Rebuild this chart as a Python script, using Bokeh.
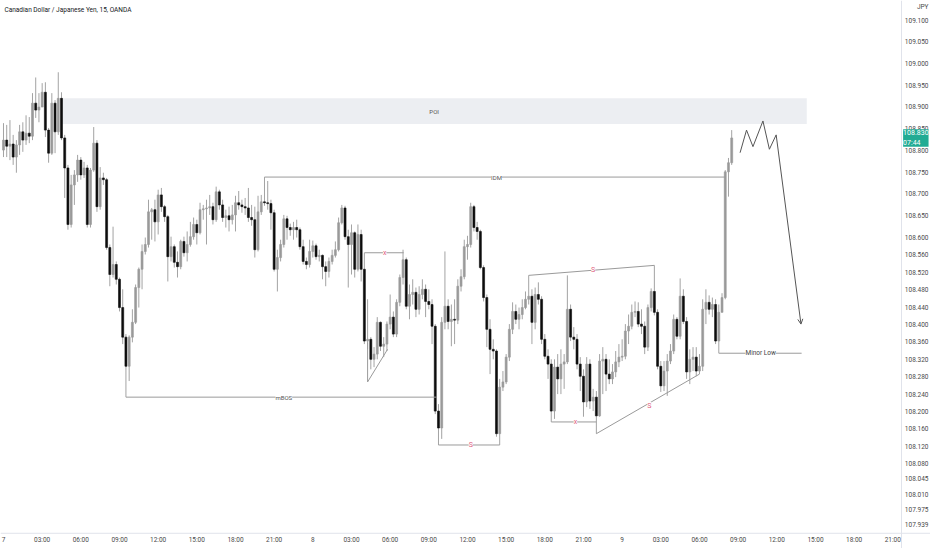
from bokeh.plotting import figure
from bokeh.models import (ColumnDataSource, FixedTicker, Range1d, Label, Arrow, OpenHead, Span)
from bokeh.embed import file_html
from bokeh.resources import INLINE

# ---------------- data (CAD/JPY, 15 min candles, slot 0 = day 7 00:00) ----------------
first_open = 108.802
closes = [108.825,
 108.811, 108.816, 108.786, 108.814, 108.844, 108.825, 108.841, 108.834, 108.910, 108.894,
 108.901, 108.935, 108.848, 108.795, 108.910, 108.844, 108.921, 108.830, 108.761, 108.631,
 108.722, 108.745, 108.779, 108.745, 108.761, 108.631, 108.756, 108.818, 108.672, 108.738,
 108.734, 108.578, 108.516, 108.539, 108.505, 108.440, 108.372, 108.305, 108.372, 108.406,
 108.486, 108.528, 108.569, 108.585, 108.660, 108.665, 108.637, 108.699, 108.672, 108.649,
 108.557, 108.580, 108.544, 108.534, 108.592, 108.566, 108.585, 108.603, 108.631, 108.612,
 108.665, 108.667, 108.669, 108.672, 108.642, 108.706, 108.676, 108.647, 108.651, 108.642,
 108.653, 108.681, 108.676, 108.672, 108.669, 108.647, 108.642, 108.573, 108.660, 108.683,
 108.681, 108.679, 108.658, 108.528, 108.555, 108.585, 108.644, 108.624, 108.619, 108.624,
 108.619, 108.580, 108.546, 108.539, 108.569, 108.582, 108.557, 108.560, 108.534, 108.523,
 108.546, 108.560, 108.573, 108.635, 108.669, 108.603, 108.585, 108.612, 108.528, 108.608,
 108.528, 108.363, 108.367, 108.321, 108.333, 108.406, 108.351, 108.356, 108.402, 108.418,
 108.379, 108.452, 108.509, 108.550, 108.443, 108.470, 108.475, 108.436, 108.470, 108.482,
 108.454, 108.447, 108.397, 108.202, 108.163, 108.406, 108.443, 108.408, 108.413, 108.411,
 108.489, 108.511, 108.580, 108.585, 108.672, 108.624, 108.615, 108.532, 108.463, 108.390,
 108.344, 108.340, 108.150, 108.257, 108.269, 108.326, 108.390, 108.431, 108.413, 108.424,
 108.440, 108.459, 108.466, 108.406, 108.470, 108.459, 108.367, 108.328, 108.310, 108.202,
 108.303, 108.276, 108.310, 108.315, 108.436, 108.372, 108.367, 108.310, 108.282, 108.223,
 108.310, 108.225, 108.234, 108.191, 108.317, 108.321, 108.287, 108.276, 108.292, 108.315,
 108.326, 108.328, 108.386, 108.397, 108.429, 108.431, 108.402, 108.397, 108.349, 108.440,
 108.477, 108.429, 108.305, 108.260, 108.294, 108.317, 108.340, 108.413, 108.374, 108.466,
 108.408, 108.292, 108.321, 108.326, 108.294, 108.305, 108.436, 108.452, 108.436, 108.447,
 108.363, 108.429, 108.463, 108.752, 108.773, 108.830]
highs = [108.864,
 108.860, 108.871, 108.837, 108.825, 108.860, 108.866, 108.882, 108.878, 108.933, 108.969,
 108.933, 108.956, 108.958, 108.853, 108.933, 108.917, 108.981, 108.935, 108.837, 108.768,
 108.745, 108.756, 108.791, 108.786, 108.775, 108.768, 108.761, 108.855, 108.825, 108.763,
 108.750, 108.738, 108.585, 108.626, 108.546, 108.509, 108.482, 108.379, 108.376, 108.436,
 108.493, 108.532, 108.585, 108.601, 108.688, 108.669, 108.688, 108.711, 108.715, 108.676,
 108.653, 108.603, 108.585, 108.569, 108.596, 108.603, 108.615, 108.637, 108.647, 108.642,
 108.681, 108.676, 108.688, 108.699, 108.681, 108.718, 108.711, 108.688, 108.665, 108.672,
 108.676, 108.697, 108.708, 108.688, 108.692, 108.715, 108.676, 108.672, 108.697, 108.699,
 108.740, 108.731, 108.688, 108.665, 108.573, 108.596, 108.653, 108.651, 108.633, 108.637,
 108.642, 108.624, 108.596, 108.555, 108.596, 108.594, 108.587, 108.573, 108.562, 108.546,
 108.555, 108.573, 108.592, 108.647, 108.676, 108.674, 108.619, 108.631, 108.615, 108.631,
 108.619, 108.566, 108.459, 108.372, 108.349, 108.418, 108.408, 108.372, 108.408, 108.470,
 108.431, 108.459, 108.516, 108.573, 108.555, 108.493, 108.505, 108.486, 108.489, 108.505,
 108.493, 108.482, 108.459, 108.402, 108.218, 108.418, 108.569, 108.459, 108.447, 108.459,
 108.505, 108.528, 108.596, 108.605, 108.681, 108.676, 108.637, 108.619, 108.537, 108.470,
 108.413, 108.367, 108.344, 108.276, 108.294, 108.333, 108.402, 108.452, 108.447, 108.440,
 108.459, 108.477, 108.514, 108.482, 108.486, 108.498, 108.466, 108.379, 108.344, 108.321,
 108.321, 108.333, 108.344, 108.333, 108.514, 108.447, 108.395, 108.379, 108.326, 108.298,
 108.326, 108.321, 108.253, 108.248, 108.333, 108.349, 108.333, 108.321, 108.310, 108.340,
 108.356, 108.367, 108.402, 108.424, 108.447, 108.454, 108.452, 108.436, 108.408, 108.447,
 108.484, 108.537, 108.436, 108.317, 108.317, 108.333, 108.356, 108.424, 108.418, 108.507,
 108.482, 108.418, 108.344, 108.349, 108.349, 108.333, 108.459, 108.482, 108.468, 108.463,
 108.459, 108.447, 108.473, 108.756, 108.784, 108.848]
lows = [108.786,
 108.786, 108.779, 108.768, 108.750, 108.791, 108.798, 108.814, 108.818, 108.825, 108.876,
 108.866, 108.901, 108.832, 108.773, 108.791, 108.795, 108.837, 108.825, 108.692, 108.619,
 108.624, 108.676, 108.729, 108.734, 108.738, 108.624, 108.624, 108.752, 108.660, 108.665,
 108.722, 108.573, 108.489, 108.509, 108.493, 108.431, 108.356, 108.234, 108.271, 108.360,
 108.402, 108.440, 108.482, 108.562, 108.578, 108.596, 108.592, 108.608, 108.660, 108.637,
 108.500, 108.546, 108.532, 108.509, 108.528, 108.557, 108.546, 108.580, 108.596, 108.585,
 108.608, 108.642, 108.585, 108.653, 108.631, 108.637, 108.665, 108.637, 108.624, 108.615,
 108.631, 108.615, 108.665, 108.658, 108.653, 108.637, 108.628, 108.555, 108.569, 108.653,
 108.674, 108.665, 108.619, 108.523, 108.477, 108.546, 108.578, 108.596, 108.605, 108.596,
 108.601, 108.573, 108.539, 108.528, 108.532, 108.555, 108.550, 108.546, 108.505, 108.489,
 108.509, 108.539, 108.555, 108.569, 108.631, 108.596, 108.486, 108.516, 108.509, 108.523,
 108.500, 108.356, 108.344, 108.298, 108.303, 108.321, 108.340, 108.326, 108.340, 108.390,
 108.372, 108.372, 108.443, 108.493, 108.436, 108.413, 108.447, 108.418, 108.424, 108.459,
 108.418, 108.436, 108.356, 108.195, 108.124, 108.138, 108.390, 108.390, 108.351, 108.356,
 108.402, 108.477, 108.505, 108.550, 108.578, 108.615, 108.596, 108.528, 108.454, 108.349,
 108.287, 108.321, 108.143, 108.124, 108.248, 108.264, 108.317, 108.379, 108.402, 108.390,
 108.413, 108.436, 108.447, 108.356, 108.390, 108.447, 108.356, 108.321, 108.276, 108.177,
 108.184, 108.241, 108.241, 108.253, 108.310, 108.363, 108.344, 108.298, 108.248, 108.189,
 108.211, 108.207, 108.202, 108.150, 108.189, 108.241, 108.248, 108.264, 108.264, 108.280,
 108.303, 108.317, 108.321, 108.356, 108.390, 108.418, 108.395, 108.379, 108.333, 108.340,
 108.431, 108.422, 108.298, 108.246, 108.248, 108.237, 108.310, 108.333, 108.367, 108.367,
 108.402, 108.276, 108.264, 108.294, 108.282, 108.287, 108.294, 108.402, 108.424, 108.418,
 108.356, 108.335, 108.431, 108.459, 108.695, 108.768]

time_ticks = list(range(0, 277, 12))
time_labels = ["7", "03:00", "06:00", "09:00", "12:00", "15:00", "18:00", "21:00",
               "8", "03:00", "06:00", "09:00", "12:00", "15:00", "18:00", "21:00",
               "9", "03:00", "06:00", "09:00", "12:00", "15:00", "18:00", "21:00"]
price_ticks = [109.100, 109.050, 109.000, 108.950, 108.900, 108.850, 108.800, 108.750,
               108.700, 108.650, 108.600, 108.560, 108.520, 108.480, 108.440, 108.400,
               108.360, 108.320, 108.280, 108.240, 108.200, 108.160, 108.120, 108.080,
               108.045, 108.010, 107.975, 107.939]
currency_tick = 109.132
last_price = 108.830
last_time = "07:44"
title_text = "Canadian Dollar / Japanese Yen, 15, OANDA"

# annotation levels (price) and slots
poi_top, poi_bottom, poi_x = 108.921, 108.862, [18, 249.3]
idm_level, idm_x = 108.740, [81, 224.2]
mbos_level, mbos_x = 108.234, [38, 134.4]
x1_level, x1_x = 108.566, [112, 124.2]
v_x, v_y = [113, 113, 119.2], [108.360, 108.269, 108.344]
s1_level, s1_x = 108.124, [135, 154]
s2_x, s2_y = [163, 202], [108.514, 108.537]
x2_level, x2_x = 108.177, [170, 184]
s3_x, s3_y = [184, 216], [108.150, 108.287]
minor_level, minor_x = 108.335, [222, 247.7]
zig_x = [228.6, 230.6, 232.6, 235.7, 237.7, 239.8]
zig_y = [108.796, 108.848, 108.810, 108.869, 108.804, 108.837]
arrow_end = (247.5, 108.402)
scale_edge = 278.7    # where the price scale begins (time slot)
time_edge = 107.921   # where the time scale begins (price)

# ---------------- figure ----------------
W, H = 930, 548
FONT = "Roboto"
p = figure(width=W, height=H, x_range=Range1d(-0.93, 287.7), y_range=Range1d(107.886, 109.146),
           output_backend="svg", toolbar_location=None, y_axis_location="left",
           min_border_left=0, min_border_top=0, min_border_right=0, min_border_bottom=0)
p.xgrid.visible = False
p.ygrid.visible = False
p.outline_line_color = None
p.background_fill_color = "white"

# POI zone
p.quad(left=[poi_x[0]], right=[poi_x[1]], top=[poi_top], bottom=[poi_bottom],
       fill_color="#eceef2", line_color=None)

# candles
n = len(closes)
opens = [first_open] + closes[:-1]
xs = list(range(n))
tops = [max(o, c) for o, c in zip(opens, closes)]
bots = [min(o, c) for o, c in zip(opens, closes)]
his = [max(h, t) for h, t in zip(highs, tops)]
los = [min(l, b) for l, b in zip(lows, bots)]
up = [c >= o for o, c in zip(opens, closes)]
src = ColumnDataSource(dict(x=xs, top=tops, bottom=bots, high=his, low=los,
                            color=["#9a9a9a" if u else "#0d0d0d" for u in up]))
p.segment(x0="x", y0="low", x1="x", y1="high", source=src, line_color="#a3a3a3", line_width=1)
p.vbar(x="x", width=0.62, top="top", bottom="bottom", source=src,
       fill_color="color", line_color="color", line_width=0.6)

LINE = "#9a9a9a"
PINK = "#e0607e"
# structure lines
p.line(x=idm_x, y=[idm_level] * 2, line_color=LINE, line_width=1)
p.line(x=mbos_x, y=[mbos_level] * 2, line_color=LINE, line_width=1)
p.line(x=x1_x, y=[x1_level] * 2, line_color=LINE, line_width=1)
p.line(x=v_x, y=v_y, line_color=LINE, line_width=1)
p.line(x=s1_x, y=[s1_level] * 2, line_color=LINE, line_width=1)
p.line(x=s2_x, y=s2_y, line_color=LINE, line_width=1)
p.line(x=x2_x, y=[x2_level] * 2, line_color=LINE, line_width=1)
p.line(x=s3_x, y=s3_y, line_color=LINE, line_width=1)
p.line(x=minor_x, y=[minor_level] * 2, line_color=LINE, line_width=1)
p.line(x=zig_x, y=zig_y, line_color="#555555", line_width=1)
p.add_layout(Arrow(end=OpenHead(size=5, line_color="#555555", line_width=1),
                   x_start=zig_x[-1], y_start=zig_y[-1], x_end=arrow_end[0], y_end=arrow_end[1],
                   line_color="#555555", line_width=1))

def lab(x, y, text, size="6px", color="#555555", bg="white", align="center"):
    p.add_layout(Label(x=x, y=y, text=text, text_font=FONT, text_font_size=size,
                       text_color=color, text_align=align, text_baseline="middle",
                       background_fill_color=bg))

lab((poi_x[0] + poi_x[1]) / 2, (poi_top + poi_bottom) / 2, "POI", bg=None)
lab(153, idm_level, "IDM")
lab(87, mbos_level, "mBOS")
lab(118.3, x1_level, "x", color=PINK, size="7px")
lab(145, s1_level, "S", color=PINK, size="7px")
lab(183, 108.526, "S", color=PINK, size="7px")
lab(177.5, x2_level, "x", color=PINK, size="7px")
lab(200.4, 108.214, "S", color=PINK, size="7px")
lab(235, minor_level, "Minor Low", size="6.5px", color="#444444")
p.add_layout(Label(x=0.3, y=109.125, text=title_text, text_font=FONT, text_font_size="6.5px",
                   text_color="#131722", text_align="left", text_baseline="middle"))

# separators of the price scale and of the time scale
p.add_layout(Span(location=scale_edge, dimension="height", line_color="#e0e3eb", line_width=1))
p.add_layout(Span(location=time_edge, dimension="width", line_color="#e0e3eb", line_width=1))

# price badge on the price scale
p.add_layout(Label(x=scale_edge + 0.5, y=last_price, text=f"{last_price:.3f}\n{last_time}",
                   text_font=FONT, text_font_size="7px", text_color="white",
                   text_align="left", text_baseline="middle", text_line_height=1.2,
                   background_fill_color="#22ab94"))

# axes (labels drawn on the scale strips inside the canvas)
xa = p.xaxis[0]
xa.ticker = FixedTicker(ticks=time_ticks)
xa.major_label_overrides = {t: l for t, l in zip(time_ticks, time_labels)}
ya = p.yaxis[0]
ya.ticker = FixedTicker(ticks=price_ticks + [currency_tick])
ov = {v: f"{v:.3f}" for v in price_ticks}
ov[currency_tick] = "JPY"
ya.major_label_overrides = ov
for ax in (xa, ya):
    ax.major_tick_line_color = None
    ax.minor_tick_line_color = None
    ax.major_tick_out = 0
    ax.major_tick_in = 0
    ax.minor_tick_out = 0
    ax.minor_tick_in = 0
    ax.axis_line_color = None
    ax.major_label_text_font = FONT
    ax.major_label_text_font_size = "6.5px"
    ax.major_label_text_color = "#4a4a4a"
xa.major_label_standoff = -13
ya.major_label_standoff = -(W - 2)

open("out.html", "w").write(file_html(p, INLINE))
